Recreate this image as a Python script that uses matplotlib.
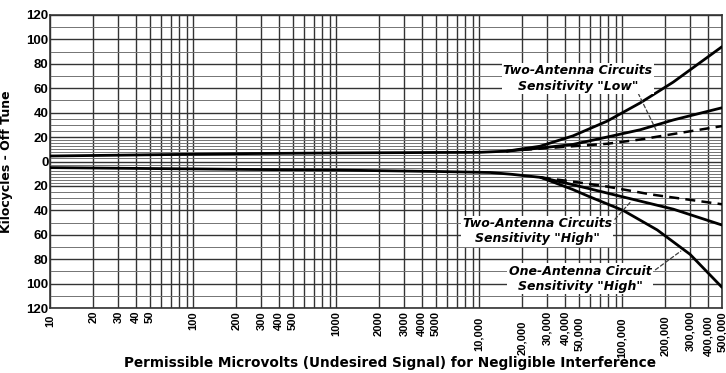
import numpy as np
import matplotlib
matplotlib.use("Agg")
import matplotlib.pyplot as plt
from matplotlib.ticker import FixedLocator, FixedFormatter

# values: x = microvolts, y = kilocycles off tune
up_base_x = [10, 250, 1000, 5300, 10000, 15700]
up_base_y = [4.5, 6.5, 7, 7.4, 7.5, 8.5]
low_top_x = [15700, 26700, 45400, 78500, 134000, 228000, 500000]
low_top_y = [8.5, 12.5, 21, 33, 48, 65, 94]
low_mid_x = [15700, 26700, 45400, 78500, 134000, 228000, 500000]
low_mid_y = [8.5, 11, 14, 20, 26, 34, 44]
low_dash_x = [20000, 26700, 45400, 78500, 134000, 228000, 500000]
low_dash_y = [9.5, 10.5, 12.5, 14.5, 18, 22.5, 29]

dn_base_x = [10, 250, 1000, 5300, 12000, 17000, 27000]
dn_base_y = [-5, -6.5, -7, -8.2, -9, -10.5, -13]
two_high_x = [27000, 45400, 101600, 228000, 500000]
two_high_y = [-13, -19, -29, -39, -52]
one_high_x = [27000, 45400, 59700, 101600, 176000, 299000, 500000]
one_high_y = [-13, -23, -29, -40, -56, -76, -103]
high_dash_x = [27000, 45400, 78500, 160000, 500000]
high_dash_y = [-13, -16.5, -20.5, -27, -35]

xticks = [10, 20, 30, 40, 50, 100, 200, 300, 400, 500, 1000, 2000, 3000, 4000, 5000,
          10000, 20000, 30000, 40000, 50000, 100000, 200000, 300000, 400000, 500000]
xlabels = ["10", "20", "30", "40", "50", "100", "200", "300", "400", "500",
           "1000", "2000", "3000", "4000", "5000", "10,000", "20,000", "30,000",
           "40,000", "50,000", "100,000", "200,000", "300,000", "400,000", "500,000"]
yticks = list(range(-120, 121, 20))
ylabels = [str(abs(v)) for v in yticks]

fig = plt.figure(figsize=(7.26, 3.73), dpi=100)
ax = fig.add_axes([0.069, 0.174, 0.9255, 0.786])
ax.set_xscale("log")
ax.set_xlim(10, 500000)
ax.set_ylim(-120, 120)

# paper grid: dense near zero
gcol = "0.2"
for d in range(1, 6):
    for k in range(1, 10):
        v = k * 10 ** d
        if v <= 500000:
            ax.axvline(v, color=gcol, lw=1.0, zorder=1)
ygrid = np.concatenate([np.arange(-120, -40, 10), np.arange(-40, -20, 5),
                        np.arange(-20, 20, 2.5), np.arange(20, 40, 5), np.arange(40, 121, 10)])
for v in ygrid:
    heavy = (v % 20 == 0)
    ax.axhline(v, color=gcol if heavy else "0.45", lw=1.0 if heavy else 0.7, zorder=1)

lk = dict(color="black", lw=2.0, zorder=3, solid_capstyle="round")
ax.plot(up_base_x, up_base_y, **lk)
ax.plot(low_top_x, low_top_y, **lk)
ax.plot(low_mid_x, low_mid_y, **lk)
ax.plot(low_dash_x, low_dash_y, ls=(0, (4, 2.5)), color="black", lw=1.8, zorder=3)
ax.plot(dn_base_x, dn_base_y, **lk)
ax.plot(two_high_x, two_high_y, **lk)
ax.plot(one_high_x, one_high_y, **lk)
ax.plot(high_dash_x, high_dash_y, ls=(0, (4, 2.5)), color="black", lw=1.8, zorder=3)

tk = dict(family="DejaVu Sans", fontsize=9, fontstyle="italic", fontweight="bold",
          ha="center", va="center", linespacing=1.25, zorder=5,
          bbox=dict(boxstyle="square,pad=0.1", fc="white", ec="none"))
ax.text(49200, 68, 'Two-Antenna Circuits\nSensitivity "Low"', **tk)
ax.text(25500, -57, 'Two-Antenna Circuits\nSensitivity "High"', **tk)
ax.text(50800, -96, 'One-Antenna Circuit\nSensitivity "High"', **tk)
ak = dict(arrowstyle="-", color="0.25", lw=0.9, ls=(0, (3, 2)))
ax.annotate("", xy=(176000, 24), xytext=(127000, 58), arrowprops=ak, zorder=4)
ax.annotate("", xy=(119000, -31), xytext=(86500, -49), arrowprops=ak, zorder=4)
ax.annotate("", xy=(267000, -72), xytext=(165000, -90), arrowprops=ak, zorder=4)

ax.xaxis.set_major_locator(FixedLocator(xticks))
ax.xaxis.set_major_formatter(FixedFormatter(xlabels))
ax.xaxis.set_minor_locator(FixedLocator([]))
ax.yaxis.set_major_locator(FixedLocator(yticks))
ax.yaxis.set_major_formatter(FixedFormatter(ylabels))
ax.tick_params(axis="both", length=0)
ax.tick_params(axis="x", labelrotation=90, labelsize=8, pad=2)
ax.tick_params(axis="y", labelsize=9.5, pad=1)
for lab in ax.get_xticklabels() + ax.get_yticklabels():
    lab.set_fontweight("bold")
    lab.set_family("Liberation Sans")
# staggered labels at the crowded end
extra = {"10": 3, "10,000": 4, "20,000": 7, "50,000": 4, "100,000": 5,
         "200,000": 3, "400,000": 3}
for t, lab in zip(ax.xaxis.get_major_ticks(), xlabels):
    if lab in extra:
        t.set_pad(2 + extra[lab])

for s in ax.spines.values():
    s.set_color(gcol)
    s.set_linewidth(1.2)

ax.set_ylabel("Kilocycles - Off Tune", family="DejaVu Sans", fontsize=9,
              fontweight="bold")
ax.yaxis.set_label_coords(-0.055, 0.5)
ax.set_xlabel("Permissible Microvolts (Undesired Signal) for Negligible Interference",
              family="DejaVu Sans", fontsize=9.8, fontweight="bold", va="top")
ax.xaxis.set_label_coords(0.506, -0.165)

fig.savefig("out.png", dpi=100)
